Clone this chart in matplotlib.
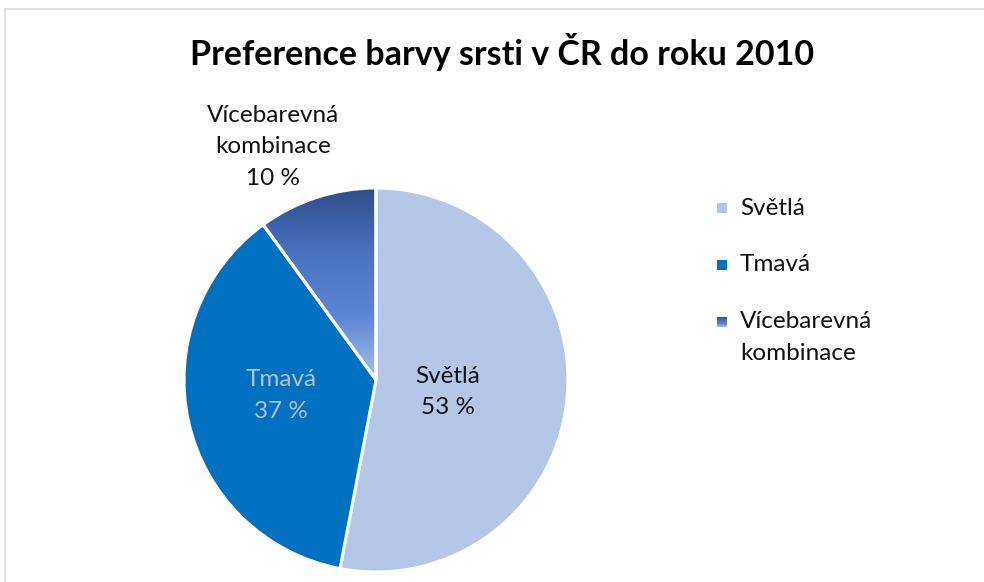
import matplotlib
matplotlib.use("Agg")
import matplotlib.pyplot as plt
import numpy as np
from matplotlib.lines import Line2D
from matplotlib.colors import LinearSegmentedColormap

categories = ["Světlá", "Tmavá", "Vícebarevná\nkombinace"]
values = [53, 37, 10]
pct_labels = ["53 %", "37 %", "10 %"]
title = "Preference barvy srsti v ČR do roku 2010"

colors = ["#B4C7E7", "#0070C0", "#4472C4"]
FONT = ["Lato", "DejaVu Sans"]

W, H = 984, 582
fig = plt.figure(figsize=(W / 100, H / 100), dpi=100)
fig.patch.set_facecolor("white")

# frame (chart area border, cropped at right/bottom)
fig.add_artist(Line2D([4.5 / W, 4.5 / W], [0, 1 - 8.5 / H], transform=fig.transFigure,
                      color="#D9D9D9", lw=1.2))
fig.add_artist(Line2D([4.5 / W, 1], [1 - 8.5 / H, 1 - 8.5 / H], transform=fig.transFigure,
                      color="#D9D9D9", lw=1.2))

# pie axes: center (376,380), radius 192 in pixels
cx, cy, r = 376, 380, 192
ax = fig.add_axes([(cx - r) / W, (H - cy - r) / H, 2 * r / W, 2 * r / H])
ax.set_xlim(-1, 1)
ax.set_ylim(-1, 1)
ax.set_aspect("equal")
ax.axis("off")

wedges, _ = ax.pie(values, colors=colors, startangle=90, counterclock=False, radius=1,
                   wedgeprops=dict(edgecolor="white", linewidth=2.2))

# gradient fill for the third wedge
w = wedges[2]
grad = np.linspace(0, 1, 256).reshape(-1, 1)
cmap = LinearSegmentedColormap.from_list("g", ["#A9C1EA", "#5B86D3", "#4A72BE", "#2F4E8C"])
w.set_facecolor("none")
img = ax.imshow(grad, cmap=cmap, extent=[-0.65, 0.0, 0.0, 1.0], origin="lower",
                aspect="auto", zorder=0.5, interpolation="bilinear")
img.set_clip_path(w)
ax.set_xlim(-1, 1)
ax.set_ylim(-1, 1)

# data labels
lab_fs = 17.5
dark = "#111111"
ax.text(0.375, 0.02, "Světlá", ha="center", va="center", fontsize=lab_fs, family=FONT, color=dark)
ax.text(0.375, -0.145, pct_labels[0], ha="center", va="center", fontsize=lab_fs, family=FONT, color=dark)
ax.text(-0.495, 0.0, "Tmavá", ha="center", va="center", fontsize=lab_fs, family=FONT, color="#B7BFCB")
ax.text(-0.495, -0.165, pct_labels[1], ha="center", va="center", fontsize=lab_fs, family=FONT, color="#B7BFCB")
ax.text(-0.536, 1.38, "Vícebarevná", ha="center", va="center", fontsize=lab_fs, family=FONT, color=dark, clip_on=False)
ax.text(-0.536, 1.215, "kombinace", ha="center", va="center", fontsize=lab_fs, family=FONT, color=dark, clip_on=False)
ax.text(-0.536, 1.05, pct_labels[2], ha="center", va="center", fontsize=lab_fs, family=FONT, color=dark, clip_on=False)

# title
fig.text(502 / W, 1 - 52 / H, title, ha="center", va="center", fontsize=24.5,
         fontweight="bold", family=FONT, color="#000000")

# legend
leg_y = [208, 265, 322]
for i, (lab, yy) in enumerate(zip(categories, leg_y)):
    sq = 10
    axl = fig.add_axes([(722 - sq / 2) / W, (H - yy - sq / 2) / H, sq / W, sq / H])
    axl.axis("off")
    if i == 2:
        axl.imshow(np.linspace(0, 1, 32).reshape(-1, 1), cmap=cmap, origin="lower",
                   extent=[0, 1, 0, 1], aspect="auto")
    else:
        axl.add_patch(plt.Rectangle((0, 0), 1, 1, color=colors[i]))
    axl.set_xlim(0, 1); axl.set_ylim(0, 1)
    lines = lab.split("\n")
    for j, ln in enumerate(lines):
        fig.text(740 / W, 1 - (yy + 32 * j) / H, ln, ha="left", va="center",
                 fontsize=lab_fs, family=FONT, color=dark)

fig.savefig("out.png", dpi=100, facecolor="white")
